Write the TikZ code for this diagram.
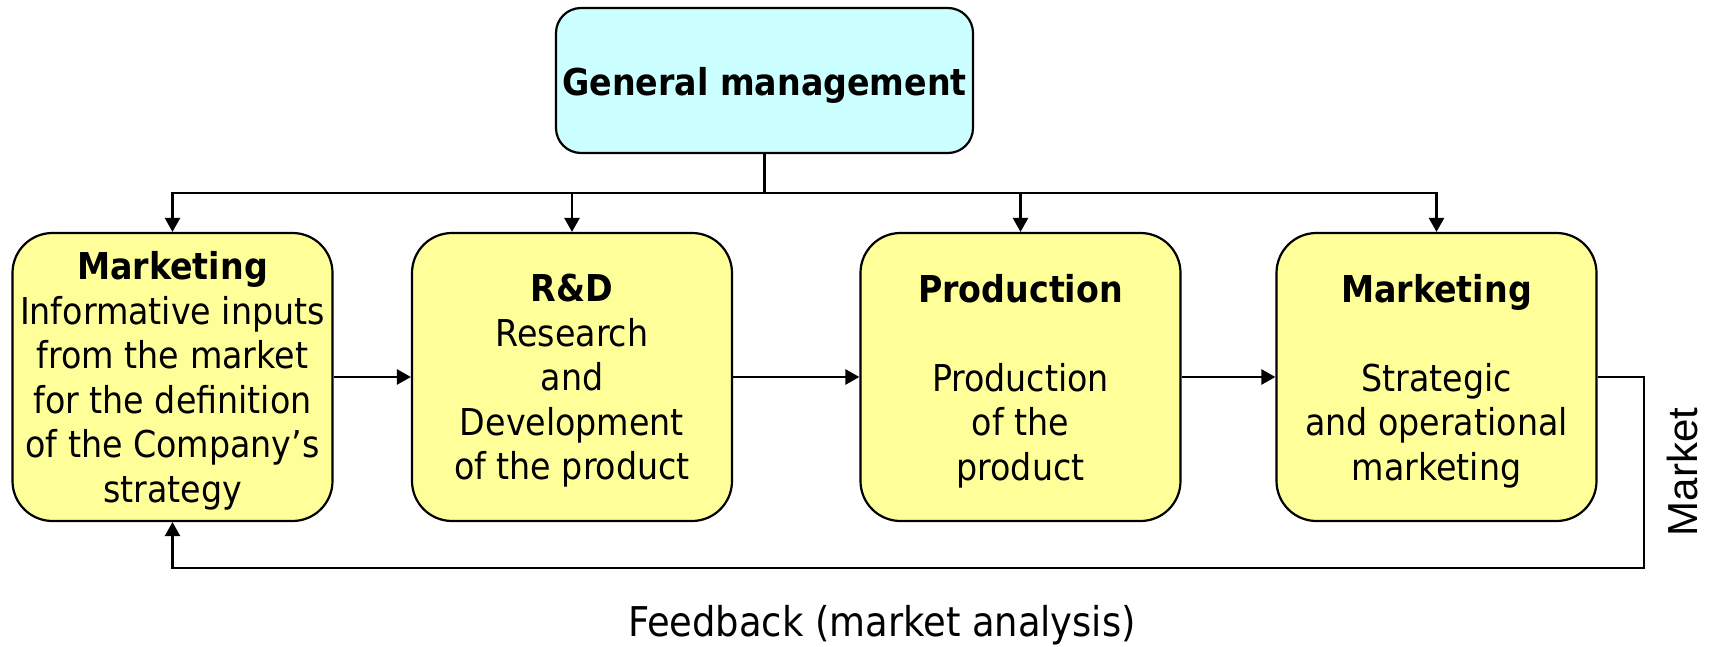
\documentclass[tikz,border=0pt]{standalone}
\usepackage{fontspec}
\setmainfont{DejaVu Sans Condensed}
\newfontfamily\arialf{Liberation Sans}
\usetikzlibrary{arrows.meta}
\definecolor{gmcyan}{HTML}{CCFFFF}
\definecolor{boxyellow}{HTML}{FFFF99}
\begin{document}
\begin{tikzpicture}[x=1pt,y=-1pt,
  boxtext/.style={font=\fontsize{37}{44.5}\selectfont, align=center, inner sep=0pt},
  ybox/.style={draw=black, line width=2.2pt, fill=boxyellow, rounded corners=40pt,
    minimum width=320pt, minimum height=288pt, inner sep=0pt},
  gmbox/.style={draw=black, line width=2.2pt, fill=gmcyan, rounded corners=25pt,
    minimum width=417pt, minimum height=145pt, inner sep=0pt},
  ln/.style={line width=2.5pt, draw=black},
  arr/.style={ln, -{Triangle[length=14pt,width=15pt]}}]
\useasboundingbox (0,0) rectangle (1714,647);
\node[gmbox] (gm) at (764.5,80.5) {};
\node[ybox] (b1) at (172.5,377) {};
\node[ybox] (b2) at (572,377) {};
\node[ybox] (b3) at (1020.5,377) {};
\node[ybox] (b4) at (1436.5,377) {};
\node[boxtext] (t0) at ([yshift=-5pt]gm.center) {\textbf{General management}};
\node[boxtext] (t1) at ([yshift=-4pt]b1.center) {\textbf{Marketing}\\Informative inputs\\from the market\\for the definition\\of the Company’s\\strategy};
\node[boxtext] (t2) at ([yshift=-4pt]b2.center) {\textbf{R\&D}\\Research\\and\\Development\\of the product};
\node[boxtext] (t3) at ([yshift=-4pt]b3.center) {\textbf{Production}\\ ~ \\Production\\of the\\product};
\node[boxtext] (t4) at ([yshift=-4pt]b4.center) {\textbf{Marketing}\\ ~ \\Strategic\\and operational\\marketing};
\coordinate (bus) at (764.5,193);
\coordinate (mkt) at (1644,568);
\draw[ln] (gm.south) -- (bus);
\draw[arr] (bus) -| (b1.north);
\draw[arr] (bus) -| (b2.north);
\draw[arr] (bus) -| (b3.north);
\draw[arr] (bus) -| (b4.north);
\draw[arr] (b1.east) -- (b2.west);
\draw[arr] (b2.east) -- (b3.west);
\draw[arr] (b3.east) -- (b4.west);
\draw[arr] (b4.east) -| (mkt) -| (b1.south);
\node[font=\arialf\fontsize{42}{50}\selectfont, rotate=90, inner sep=0pt] (market) at (1682,472) {Market};
\node[font=\fontsize{41}{48}\selectfont, anchor=base, inner sep=0pt] (feedback) at (882,636) {Feedback (market analysis)};
\end{tikzpicture}
\end{document}
